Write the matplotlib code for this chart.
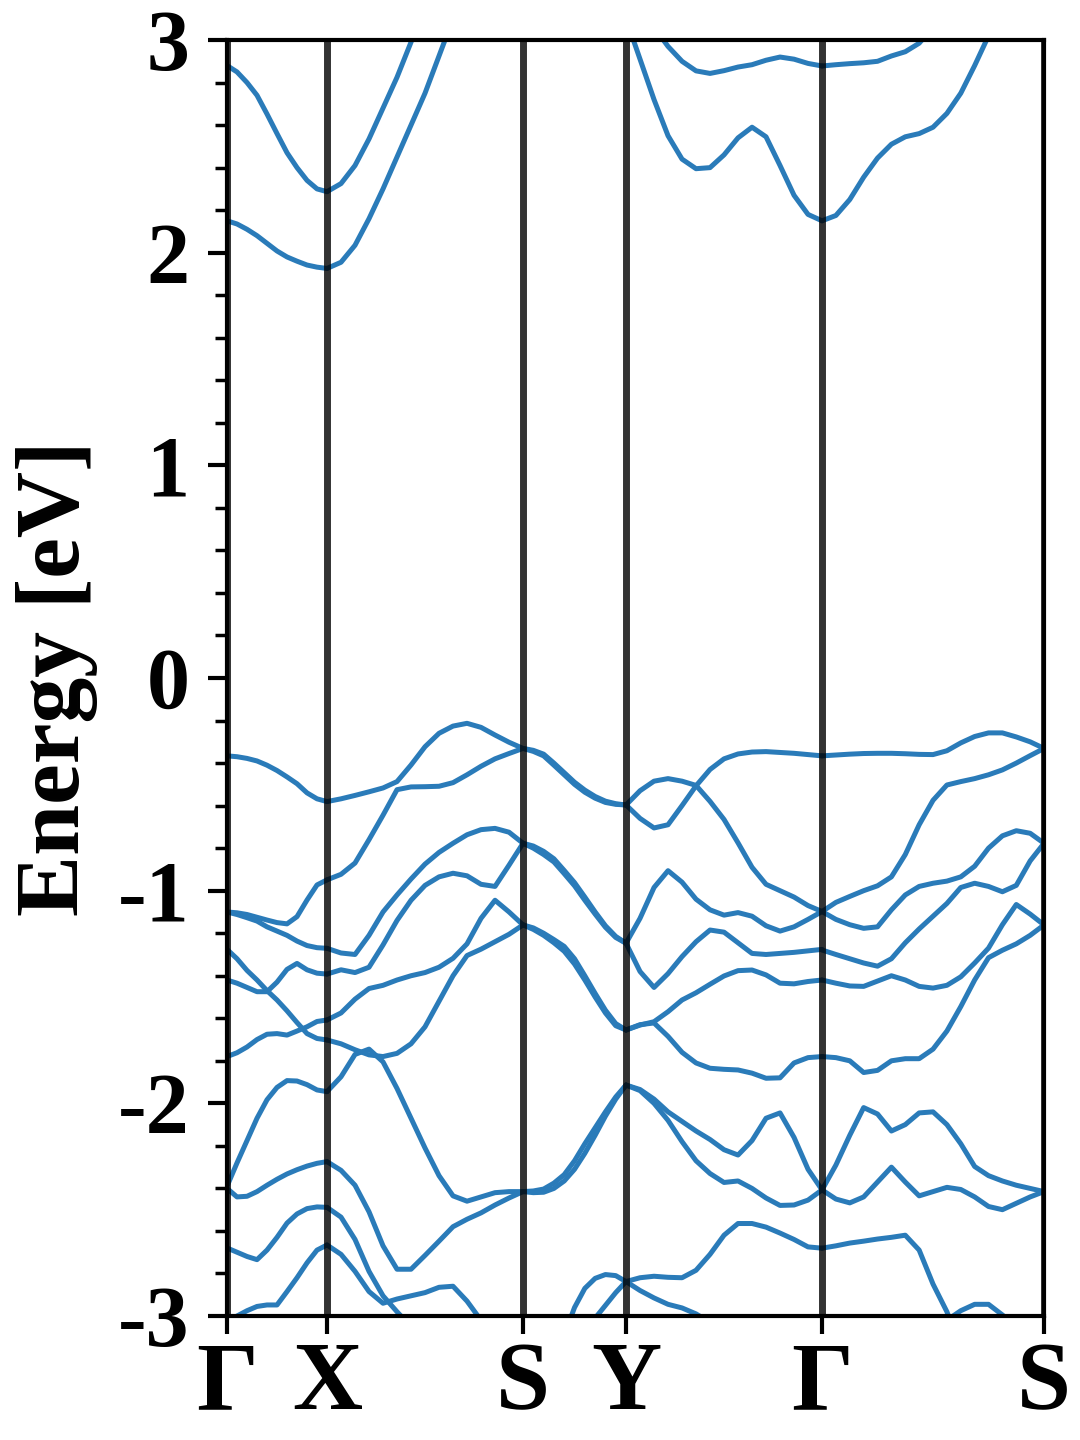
import numpy as np
import matplotlib
matplotlib.use("Agg")
import matplotlib.pyplot as plt
from matplotlib import font_manager
from matplotlib.ticker import MultipleLocator

nan = np.nan

# high-symmetry path
kpoint_labels = ["Γ", "X", "S", "Y", "Γ", "S"]
kpoint_pos = [0.0, 1.00, 2.96, 3.99, 5.95, 8.17]
seg_npts = [11, 15, 11, 15, 17]

# ---- Γ -> X (11 samples) ----
gx_bands = [
    [2.88, 2.85, 2.80, 2.74, 2.652, 2.56, 2.47, 2.40, 2.34, 2.30, 2.287],
    [2.15, 2.135, 2.11, 2.08, 2.044, 2.008, 1.98, 1.96, 1.942, 1.932, 1.926],
    [-0.366, -0.37, -0.378, -0.39, -0.41, -0.435, -0.465, -0.497, -0.54, -0.568, -0.581],
    [-1.10, -1.104, -1.112, -1.125, -1.138, -1.15, -1.156, -1.122, -1.044, -0.973, -0.949],
    [-1.10, -1.112, -1.127, -1.143, -1.17, -1.19, -1.21, -1.237, -1.258, -1.268, -1.271],
    [-1.276, -1.32, -1.375, -1.42, -1.47, -1.514, -1.565, -1.62, -1.672, -1.695, -1.702],
    [-1.42, -1.435, -1.455, -1.475, -1.475, -1.43, -1.37, -1.342, -1.372, -1.388, -1.392],
    [-1.78, -1.762, -1.735, -1.70, -1.675, -1.672, -1.679, -1.66, -1.64, -1.615, -1.608],
    [-2.39, -2.28, -2.175, -2.07, -1.983, -1.925, -1.893, -1.895, -1.912, -1.937, -1.945],
    [-2.40, -2.44, -2.437, -2.415, -2.385, -2.357, -2.332, -2.312, -2.295, -2.282, -2.274],
    [-2.68, -2.70, -2.72, -2.735, -2.69, -2.63, -2.563, -2.52, -2.495, -2.487, -2.489],
    [-3.04, -3.0, -2.975, -2.955, -2.948, -2.948, -2.885, -2.82, -2.75, -2.69, -2.666],
]

# ---- X -> S (15 samples) ----
xs_bands = [
    [2.287, 2.325, 2.41, 2.535, 2.68, 2.825, 2.99, 3.17, nan, nan, nan, nan, nan, nan, nan],
    [1.926, 1.955, 2.035, 2.16, 2.30, 2.45, 2.60, 2.75, 2.925, 3.1, nan, nan, nan, nan, nan],
    [-0.581, -0.568, -0.552, -0.535, -0.517, -0.487, -0.409, -0.323, -0.26, -0.226, -0.213, -0.232, -0.268, -0.302, -0.331],
    [-0.949, -0.923, -0.87, -0.76, -0.645, -0.525, -0.512, -0.511, -0.509, -0.492, -0.455, -0.415, -0.38, -0.355, -0.331],
    [-1.271, -1.293, -1.30, -1.21, -1.10, -1.02, -0.945, -0.875, -0.82, -0.777, -0.737, -0.713, -0.707, -0.725, -0.777],
    [-1.392, -1.372, -1.385, -1.36, -1.255, -1.14, -1.045, -0.975, -0.935, -0.918, -0.93, -0.97, -0.98, -0.88, -0.777],
    [-1.608, -1.575, -1.51, -1.46, -1.445, -1.42, -1.40, -1.385, -1.36, -1.318, -1.25, -1.13, -1.045, -1.10, -1.161],
    [-1.702, -1.72, -1.748, -1.772, -1.78, -1.765, -1.72, -1.64, -1.52, -1.40, -1.305, -1.275, -1.24, -1.205, -1.161],
    [-1.945, -1.875, -1.77, -1.745, -1.805, -1.93, -2.07, -2.21, -2.34, -2.435, -2.46, -2.44, -2.42, -2.415, -2.415],
    [-2.274, -2.315, -2.385, -2.51, -2.67, -2.78, -2.78, -2.715, -2.648, -2.58, -2.545, -2.515, -2.478, -2.445, -2.415],
    [-2.489, -2.535, -2.64, -2.79, -2.905, -2.98, -3.05, nan, nan, nan, nan, nan, nan, nan, nan],
    [-2.666, -2.71, -2.79, -2.885, -2.94, -2.92, -2.905, -2.89, -2.865, -2.86, -2.93, -3.02, nan, nan, nan],
]

# ---- S -> Y (11 samples) ----
sy_bands = [
    [-0.331, -0.345, -0.366, -0.41, -0.455, -0.50, -0.537, -0.565, -0.585, -0.594, -0.597],
    [-0.331, -0.34, -0.358, -0.40, -0.445, -0.49, -0.527, -0.557, -0.579, -0.591, -0.597],
    [-0.777, -0.79, -0.815, -0.85, -0.905, -0.962, -1.03, -1.10, -1.165, -1.215, -1.247],
    [-0.777, -0.80, -0.83, -0.865, -0.92, -0.977, -1.045, -1.11, -1.172, -1.22, -1.247],
    [-1.161, -1.175, -1.20, -1.23, -1.262, -1.32, -1.40, -1.483, -1.562, -1.625, -1.655],
    [-1.161, -1.182, -1.21, -1.245, -1.285, -1.345, -1.42, -1.50, -1.575, -1.635, -1.655],
    [-2.415, -2.412, -2.403, -2.375, -2.335, -2.27, -2.19, -2.115, -2.04, -1.97, -1.914],
    [-2.415, -2.42, -2.418, -2.40, -2.365, -2.31, -2.235, -2.15, -2.06, -1.98, -1.914],
    [nan, nan, nan, nan, -3.09, -2.96, -2.87, -2.823, -2.805, -2.81, -2.838],
    [nan, nan, nan, nan, nan, nan, -3.07, -3.01, -2.95, -2.89, -2.838],
]

# ---- Y -> Γ (15 samples) ----
yg_bands = [
    [nan, nan, 3.06, 2.97, 2.90, 2.855, 2.843, 2.856, 2.873, 2.884, 2.905, 2.92, 2.91, 2.89, 2.878],
    [3.1, 2.91, 2.72, 2.55, 2.44, 2.395, 2.40, 2.46, 2.54, 2.59, 2.545, 2.41, 2.27, 2.18, 2.15],
    [-0.597, -0.53, -0.485, -0.473, -0.485, -0.505, -0.58, -0.665, -0.775, -0.89, -0.97, -1.0, -1.03, -1.07, -1.098],
    [-0.597, -0.66, -0.705, -0.69, -0.60, -0.507, -0.43, -0.38, -0.357, -0.348, -0.346, -0.35, -0.354, -0.36, -0.366],
    [-1.247, -1.13, -0.985, -0.906, -0.96, -1.04, -1.09, -1.115, -1.103, -1.12, -1.165, -1.19, -1.17, -1.135, -1.098],
    [-1.247, -1.38, -1.455, -1.39, -1.31, -1.24, -1.185, -1.195, -1.245, -1.295, -1.30, -1.295, -1.29, -1.283, -1.276],
    [-1.655, -1.63, -1.622, -1.685, -1.76, -1.81, -1.835, -1.84, -1.843, -1.858, -1.882, -1.88, -1.81, -1.785, -1.78],
    [-1.655, -1.632, -1.616, -1.569, -1.514, -1.48, -1.44, -1.401, -1.376, -1.373, -1.396, -1.435, -1.438, -1.427, -1.42],
    [-1.914, -1.935, -1.98, -2.04, -2.085, -2.13, -2.17, -2.218, -2.243, -2.175, -2.07, -2.045, -2.16, -2.31, -2.407],
    [-1.914, -1.94, -2.0, -2.08, -2.18, -2.27, -2.33, -2.372, -2.365, -2.40, -2.445, -2.48, -2.478, -2.455, -2.407],
    [-2.838, -2.82, -2.813, -2.818, -2.82, -2.785, -2.71, -2.62, -2.565, -2.565, -2.582, -2.61, -2.64, -2.675, -2.681],
    [-2.838, -2.88, -2.915, -2.945, -2.962, -2.99, -3.03, nan, nan, nan, nan, nan, nan, nan, nan],
]

# ---- Γ -> S (17 samples) ----
gs_bands = [
    [2.878, 2.884, 2.889, 2.893, 2.90, 2.925, 2.945, 2.985, 3.06, nan, nan, nan, nan, nan, nan, nan, nan],
    [2.15, 2.175, 2.25, 2.355, 2.445, 2.51, 2.545, 2.56, 2.59, 2.655, 2.75, 2.88, 3.02, 3.2, nan, nan, nan],
    [-0.366, -0.362, -0.358, -0.355, -0.354, -0.354, -0.356, -0.359, -0.36, -0.342, -0.305, -0.275, -0.258, -0.258, -0.277, -0.30, -0.331],
    [-1.098, -1.055, -1.027, -1.0, -0.977, -0.935, -0.83, -0.69, -0.575, -0.503, -0.487, -0.473, -0.455, -0.432, -0.40, -0.365, -0.331],
    [-1.098, -1.135, -1.16, -1.177, -1.17, -1.09, -1.02, -0.98, -0.965, -0.955, -0.935, -0.885, -0.80, -0.742, -0.718, -0.73, -0.777],
    [-1.279, -1.30, -1.32, -1.34, -1.355, -1.32, -1.245, -1.18, -1.12, -1.06, -0.985, -0.965, -0.98, -1.005, -0.975, -0.86, -0.777],
    [-1.42, -1.435, -1.448, -1.45, -1.425, -1.40, -1.42, -1.45, -1.458, -1.445, -1.405, -1.34, -1.27, -1.16, -1.065, -1.11, -1.161],
    [-1.78, -1.785, -1.80, -1.855, -1.845, -1.80, -1.79, -1.79, -1.745, -1.66, -1.545, -1.42, -1.315, -1.28, -1.25, -1.21, -1.161],
    [-2.407, -2.29, -2.15, -2.02, -2.05, -2.13, -2.10, -2.045, -2.04, -2.10, -2.19, -2.297, -2.34, -2.365, -2.385, -2.40, -2.415],
    [-2.407, -2.45, -2.468, -2.44, -2.37, -2.30, -2.37, -2.435, -2.415, -2.395, -2.405, -2.44, -2.485, -2.50, -2.47, -2.44, -2.415],
    [-2.681, -2.67, -2.657, -2.648, -2.638, -2.63, -2.62, -2.69, -2.85, -2.98, -3.15, nan, nan, nan, nan, nan, nan],
    [nan, nan, nan, nan, nan, nan, nan, nan, nan, -3.02, -2.975, -2.945, -2.945, -2.995, -3.05, nan, nan],
]

segments = [gx_bands, xs_bands, sy_bands, yg_bands, gs_bands]

# locate a Times-like bold serif (Liberation Serif Bold)
serif_name = 'DejaVu Serif'
for f in font_manager.findSystemFonts():
    base = f.replace('\\', '/').split('/')[-1].lower()
    if base.startswith('liberationserif'):
        try:
            font_manager.fontManager.addfont(f)
        except Exception:
            pass
        serif_name = 'Liberation Serif'

plt.rcParams['font.family'] = [serif_name, 'DejaVu Serif']
plt.rcParams['font.weight'] = 'bold'
plt.rcParams['axes.unicode_minus'] = False

fig = plt.figure(figsize=(10.8, 14.4), dpi=100)
ax = fig.add_axes([0.2102, 0.0861, 0.7565, 0.8861])

band_color = '#2a7bb9'
for i, bands in enumerate(segments):
    k = np.linspace(kpoint_pos[i], kpoint_pos[i + 1], seg_npts[i])
    for e in bands:
        ax.plot(k, e, color=band_color, lw=3.6, solid_capstyle='round',
                solid_joinstyle='round', zorder=2)

for kp in kpoint_pos:
    ax.axvline(kp, color='k', alpha=0.8, lw=5, zorder=3)

ax.set_xlim(kpoint_pos[0], kpoint_pos[-1])
ax.set_ylim(-3, 3)
ax.set_xticks(kpoint_pos)
ax.set_xticklabels(kpoint_labels, fontsize=70, fontweight='bold')
ax.yaxis.set_minor_locator(MultipleLocator(0.2))
ax.set_yticks([-3, -2, -1, 0, 1, 2, 3])
ax.set_yticklabels(['-3', '-2', '-1', '0', '1', '2', '3'], fontsize=62, fontweight='bold')

ax.tick_params(axis='x', which='major', length=13, width=3, pad=5, direction='out')
ax.tick_params(axis='y', which='major', length=14, width=3, pad=13, direction='out')
ax.tick_params(axis='y', which='minor', length=8.5, width=2.5, direction='out')

for sp in ax.spines.values():
    sp.set_linewidth(3)
    sp.set_zorder(4)

ax.set_ylabel('Energy [eV]', fontsize=66, fontweight='bold', labelpad=14)

fig.savefig('out.png', dpi=100)
